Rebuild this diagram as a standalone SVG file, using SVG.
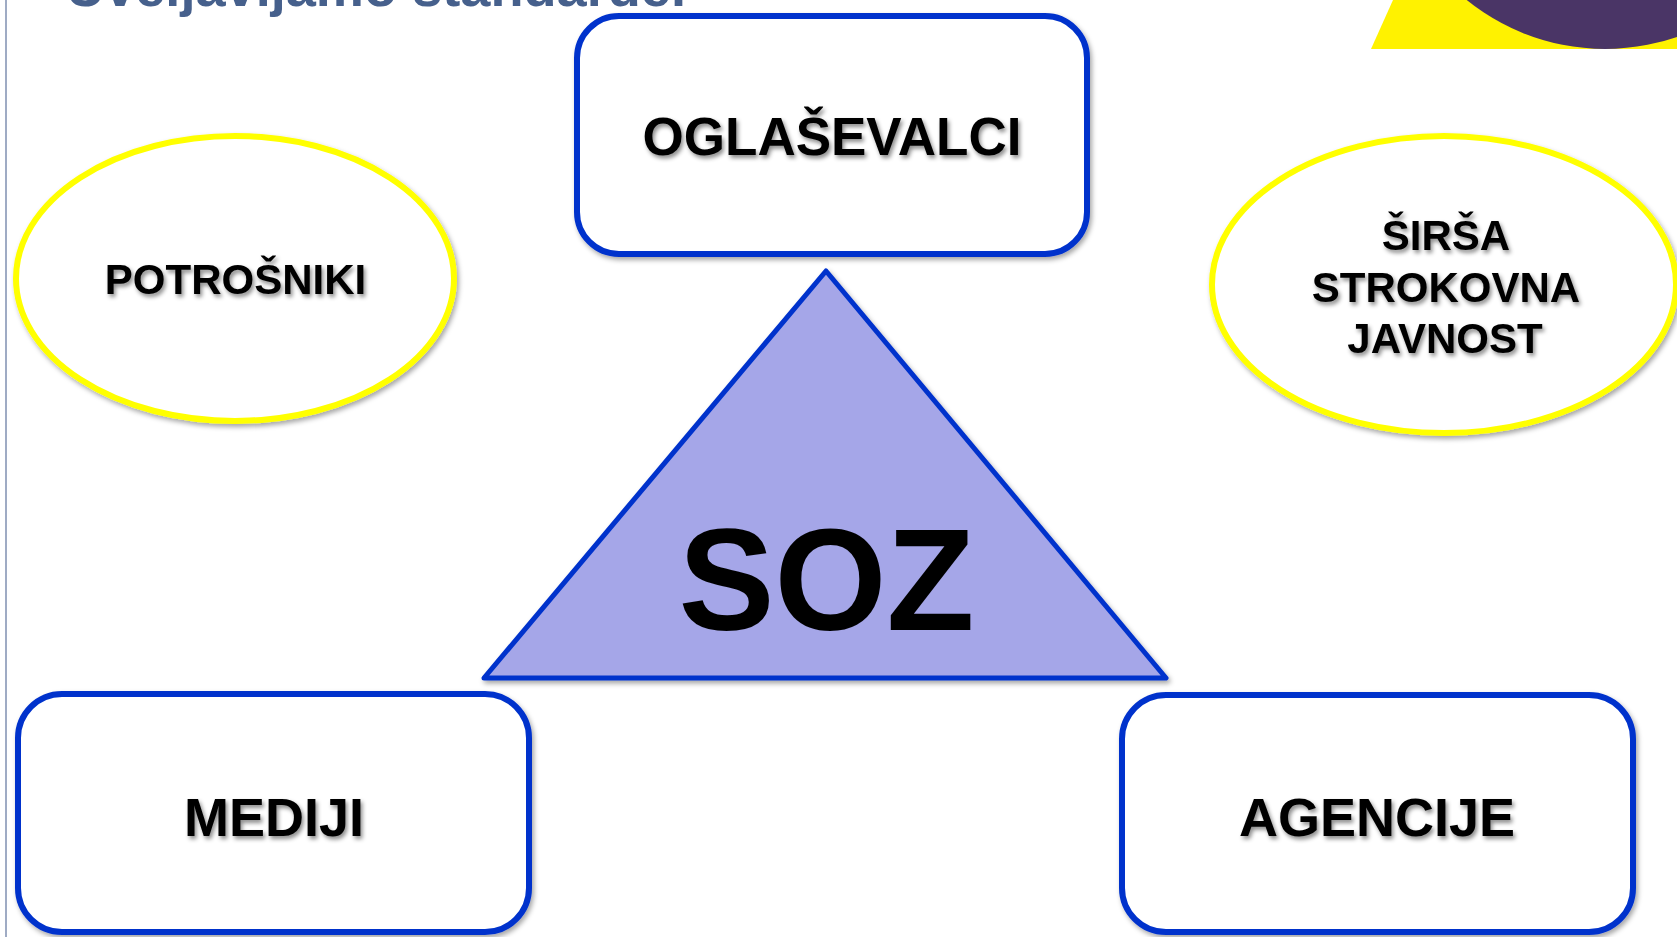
<svg xmlns="http://www.w3.org/2000/svg" width="1677" height="937" viewBox="0 0 1677 937">
  <defs>
    <filter id="shapeShadow" x="-10%" y="-10%" width="120%" height="125%">
      <feDropShadow dx="2" dy="3" stdDeviation="2.5" flood-color="#000" flood-opacity="0.35"/>
    </filter>
    <filter id="textShadow" x="-10%" y="-20%" width="120%" height="150%">
      <feDropShadow dx="2" dy="3" stdDeviation="2" flood-color="#000" flood-opacity="0.45"/>
    </filter>
  </defs>
  <style>
    .box { fill: #ffffff; stroke: #0033cc; stroke-width: 6; }
    .oval { fill: #ffffff; stroke: #ffff00; stroke-width: 6; }
    .lbl { font-family: "Liberation Sans", Arial, sans-serif; font-weight: bold; fill: #000000; text-anchor: middle; }
    .title { font-family: "Liberation Sans", Arial, sans-serif; font-weight: bold; fill: #46608c; }
  </style>
  <rect x="0" y="0" width="1677" height="937" fill="#ffffff"/>
  <line x1="6" y1="0" x2="6" y2="937" stroke="#7f8fb0" stroke-width="1.5"/>
  <text class="title" x="66" y="6" font-size="54" textLength="620" lengthAdjust="spacingAndGlyphs">Uveljavljamo standarde.</text>
  <g id="corner-decoration">
    <polygon points="1393,0 1677,0 1677,49 1371,49" fill="#fff200"/>
    <ellipse cx="1605" cy="-167" rx="218" ry="216" fill="#4a3566"/>
  </g>
  <g id="connectors"></g>
  <g id="node-oglasevalci">
    <rect class="box" x="577" y="16" width="510" height="238" rx="42" filter="url(#shapeShadow)"/>
    <text class="lbl" x="832" y="155" font-size="53" filter="url(#textShadow)">OGLAŠEVALCI</text>
  </g>
  <g id="node-potrosniki">
    <ellipse class="oval" cx="235" cy="278.5" rx="219" ry="142.5" filter="url(#shapeShadow)"/>
    <text class="lbl" x="235.5" y="294" font-size="42" filter="url(#textShadow)">POTROŠNIKI</text>
  </g>
  <g id="node-sirsa">
    <ellipse class="oval" cx="1444" cy="284.5" rx="232" ry="148.5" filter="url(#shapeShadow)"/>
    <text class="lbl" font-size="42" filter="url(#textShadow)">
      <tspan x="1451" y="250">ŠIRŠA</tspan>
      <tspan x="1451" y="302">STROKOVNA</tspan>
      <tspan x="1445" y="353">JAVNOST</tspan>
    </text>
  </g>
  <g id="node-soz">
    <polygon points="826,271 1166,678 484,678" fill="#a5a6e8" stroke="#0033cc" stroke-width="5" stroke-linejoin="round" filter="url(#shapeShadow)"/>
    <text class="lbl" x="826.5" y="630" font-size="144">SOZ</text>
  </g>
  <g id="node-mediji">
    <rect class="box" x="18" y="694" width="511" height="238" rx="44" filter="url(#shapeShadow)"/>
    <text class="lbl" x="274" y="836" font-size="54" filter="url(#textShadow)">MEDIJI</text>
  </g>
  <g id="node-agencije">
    <rect class="box" x="1122" y="695" width="511" height="237" rx="44" filter="url(#shapeShadow)"/>
    <text class="lbl" x="1377" y="836" font-size="54" filter="url(#textShadow)">AGENCIJE</text>
  </g>
</svg>
